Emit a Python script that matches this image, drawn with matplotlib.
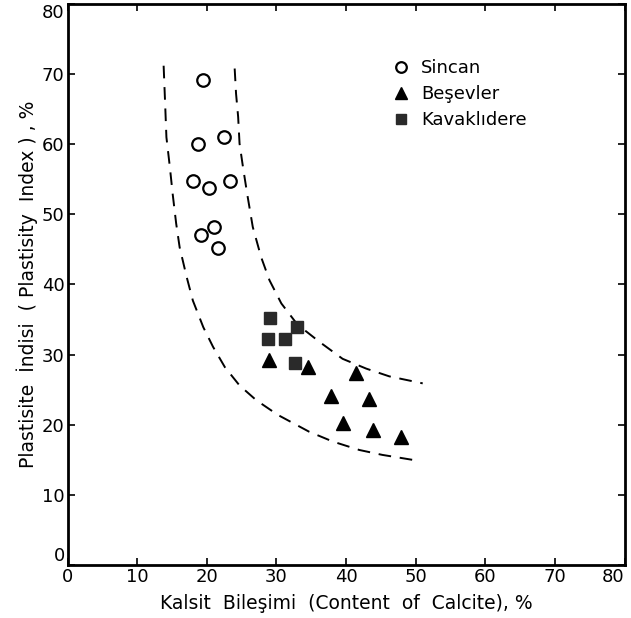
import matplotlib.pyplot as plt

# data
sincan_x = [19.4, 18.7, 22.4, 18.0, 20.3, 23.4, 19.1, 21.1, 21.6]
sincan_y = [69.2, 60.0, 61.0, 54.7, 53.7, 54.8, 47.0, 48.2, 45.2]

besevler_x = [28.9, 34.6, 41.4, 37.8, 43.3, 39.5, 43.9, 47.9]
besevler_y = [29.2, 28.2, 27.4, 24.1, 23.6, 20.2, 19.2, 18.2]

kavak_x = [29.1, 28.8, 31.2, 33.0, 32.7]
kavak_y = [35.2, 32.2, 32.2, 33.9, 28.8]

# envelope curves (hand drawn)
lower_x = [13.8, 14.0, 14.2, 14.7, 15.1, 15.6, 16.1, 17.1, 18.0, 19.5, 20.9, 22.6,
           24.7, 27.1, 30.2, 34.7, 38.1, 41.9, 45.2, 49.5]
lower_y = [71.2, 66.2, 61.0, 56.7, 52.9, 48.7, 45.3, 41.1, 37.7, 33.9, 31.1, 28.2,
           25.6, 23.5, 21.4, 19.0, 17.6, 16.4, 15.7, 15.0]
upper_x = [24.0, 24.2, 24.5, 24.7, 25.2, 25.8, 26.6, 27.8, 29.0, 30.7, 33.0, 36.2,
           39.5, 42.9, 46.2, 51.0]
upper_y = [70.8, 67.2, 63.9, 60.1, 56.7, 52.9, 48.2, 43.9, 40.6, 37.3, 34.3, 31.8,
           29.4, 28.0, 26.9, 25.9]

ticks = [0, 10, 20, 30, 40, 50, 60, 70, 80]

plt.rcParams['font.family'] = ['DejaVu Sans']

fig = plt.figure(figsize=(6.31, 6.18), dpi=100)
ax = fig.add_axes([0.107, 0.0858, 0.883, 0.9077])

ax.plot(lower_x, lower_y, color='black', lw=1.4, dashes=(6.5, 4.5))
ax.plot(upper_x, upper_y, color='black', lw=1.4, dashes=(6.5, 4.5))

ax.plot(sincan_x, sincan_y, 'o', ms=9, mfc='white', mec='black', mew=1.6, ls='none', label='Sincan')
ax.plot(besevler_x, besevler_y, '^', ms=9.5, color='black', ls='none', label='Beşevler')
ax.plot(kavak_x, kavak_y, 's', ms=8, color='#2a2a2a', ls='none', label='Kavaklıdere')

ax.set_xlim(0, 80)
ax.set_ylim(0, 80)
ax.set_xticks(ticks)
ax.set_yticks(ticks)
ax.tick_params(direction='in', length=5, width=1.2, labelsize=13, top=True, right=True, pad=2)
for s in ax.spines.values():
    s.set_linewidth(2)

# keep end labels inside the figure, as in the original
ylabs = ax.get_yticklabels()
ylabs[0].set_va('bottom')
ylabs[-1].set_va('top')
xlabs = ax.get_xticklabels()
xlabs[-1].set_ha('right')

ax.set_xlabel('Kalsit  Bileşimi  (Content  of  Calcite), %', fontsize=13.5, labelpad=6)
ax.set_ylabel('Plastisite  İndisi  ( Plastisity  Index ) , %', fontsize=13.5, labelpad=3)

ax.legend(loc='upper left', bbox_to_anchor=(0.57, 0.915), frameon=False, fontsize=13,
          handletextpad=0.6, labelspacing=0.45, handlelength=1.0, borderaxespad=0,
          markerscale=0.85)

fig.savefig('out.png', dpi=100)
